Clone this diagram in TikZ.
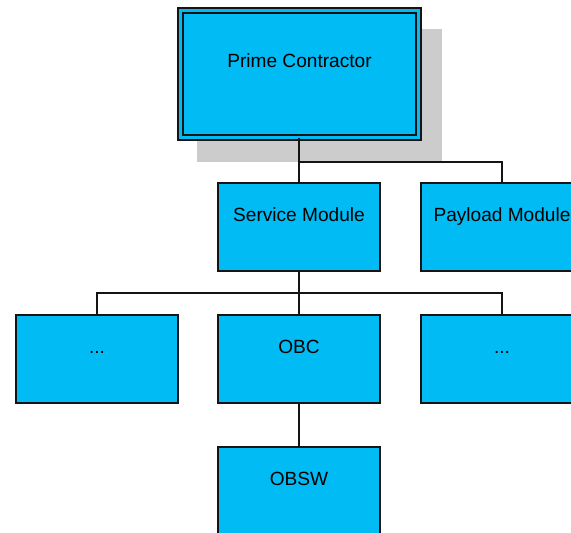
\documentclass[tikz,border=0pt]{standalone}
\usepackage{fontspec}
\setmainfont{Liberation Sans}
\definecolor{boxblue}{RGB}{0,187,244}
\definecolor{shadowgray}{RGB}{204,204,204}
\definecolor{linedark}{RGB}{20,20,20}
\begin{document}
\begin{tikzpicture}[x=1pt,y=-1pt,
  unit/.style={draw=linedark, line width=1.5pt, fill=boxblue,
    minimum width=162pt, minimum height=88pt, inner sep=0pt},
  labelfont/.style={font=\fontsize{19.1}{23}\selectfont},
  caption/.style={label={[anchor=base, label distance=-39pt, labelfont]north:#1}},
  link/.style={draw=linedark, line width=1.5pt}]
\path[use as bounding box, clip] (0,0) rectangle (571,533);
\fill[white] (0,0) rectangle (571,533);

% drop shadow behind the top box
\fill[shadowgray] (197,29) rectangle (442,162);

% top box with double frame
\node[unit, double=boxblue, double distance=3.5pt,
  minimum width=238pt, minimum height=127pt,
  label={[anchor=base, label distance=-57.5pt, labelfont]north:Prime Contractor}]
  (pc) at (299.5,74) {};

% second level
\node[unit, caption=Service Module] (sm) at (299,227) {};
\node[unit, caption=Payload Module] (pm) at (502,227) {};

% third level
\node[unit, caption=...] (d1) at (97,359) {};
\node[unit, caption=OBC] (obc) at (299,359) {};
\node[unit, caption=...] (d2) at (502,359) {};

% fourth level
\node[unit, caption=OBSW] (obsw) at (299,491) {};

% connectors
\coordinate (j1) at (299,162);
\coordinate (j2) at (299,293);
\draw[link] (pc.south -| sm.north) -- (sm.north);
\draw[link] (j1) -| (pm.north);
\draw[link] (sm.south) -- (obc.north);
\draw[link] (d1.north) |- (j2) -| (d2.north);
\draw[link] (obc.south) -- (obsw.north);
\end{tikzpicture}
\end{document}
